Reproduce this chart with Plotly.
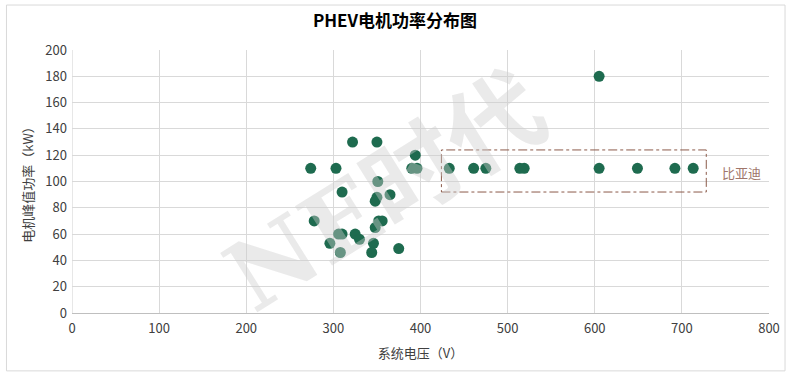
import plotly.graph_objects as go

# Data (system voltage V, peak motor power kW)
voltage = [605, 322, 350, 394, 274, 303, 390, 396, 351, 310, 365, 350, 348, 278,
           352, 356, 348, 306, 310, 325, 330, 296, 346, 308, 344, 375,
           433, 461, 475, 514, 519, 605, 649, 692, 713]
power = [180, 130, 130, 120, 110, 110, 110, 110, 100, 92, 90, 88, 85, 70,
         70, 70, 65, 60, 60, 60, 56, 53, 53, 46, 46, 49,
         110, 110, 110, 110, 110, 110, 110, 110, 110]

byd_box_x = [424, 728]
byd_box_y = [92, 124]
byd_label = "比亚迪"

title = "PHEV电机功率分布图"
x_title = "系统电压（V）"
y_title = "电机峰值功率（kW）"
watermark = "NE时代"

FONT = "Noto Sans CJK SC, Noto Sans, sans-serif"

fig = go.Figure()
fig.add_trace(go.Scatter(
    x=voltage, y=power, mode="markers",
    marker=dict(color="#1E6B4F", size=11, line=dict(width=0)),
    showlegend=False, hoverinfo="x+y"))

fig.add_shape(type="rect", xref="x", yref="y",
              x0=byd_box_x[0], x1=byd_box_x[1], y0=byd_box_y[0], y1=byd_box_y[1],
              line=dict(color="#8B5A4A", width=1, dash="dashdot"))
fig.add_annotation(x=byd_box_x[1], y=(byd_box_y[0] + byd_box_y[1]) / 2 - 1,
                   xref="x", yref="y", text=byd_label, showarrow=False,
                   xanchor="left", xshift=14,
                   font=dict(family=FONT, size=13, color="#A0766A"))

# outer chart border
fig.add_shape(type="rect", xref="paper", yref="paper",
              x0=-0.094, x1=1.023, y0=-0.22, y1=1.171,
              line=dict(color="#D9D9D9", width=1))

# left vertical axis line at x=0
fig.add_shape(type="line", xref="x", yref="paper", x0=0, x1=0, y0=0, y1=1,
              line=dict(color="#D0D0D0", width=1), layer="below")

# watermark (drawn over the points, semi-transparent)
fig.add_annotation(x=360, y=92, xref="x", yref="y", text="<b>" + watermark + "</b>",
                   showarrow=False, textangle=-32,
                   font=dict(family="DejaVu Serif, Noto Sans CJK SC, serif", size=96,
                             color="rgba(205,205,205,0.42)"))

fig.update_layout(
    width=790, height=376,
    margin=dict(l=72, r=21, t=50, b=63),
    paper_bgcolor="white", plot_bgcolor="white",
    title=dict(text="<b>" + title + "</b>", x=0.5, xanchor="center",
               y=0.945, yanchor="middle",
               font=dict(family=FONT, size=17, color="#000000")),
    font=dict(family=FONT, size=13, color="#404040"),
    xaxis=dict(range=[0, 800], dtick=100, showgrid=True, gridcolor="#D9D9D9",
               zeroline=False, showline=True, linecolor="#BFBFBF",
               ticks="", automargin=False, ticklabelstandoff=3,
               title=dict(text=x_title, standoff=13,
                          font=dict(family=FONT, size=13, color="#404040")),
               tickfont=dict(family=FONT, size=13, color="#404040")),
    yaxis=dict(range=[0, 200], dtick=20, showgrid=True, gridcolor="#D9D9D9",
               zeroline=False, showline=False, ticks="", automargin=False,
               ticklabelstandoff=4,
               title=dict(text=y_title, standoff=8,
                          font=dict(family=FONT, size=13, color="#404040")),
               tickfont=dict(family=FONT, size=13, color="#404040")),
)

fig.write_html("out.html", config={"displayModeBar": False},
               post_script="document.body.style.margin='0';document.body.style.overflow='hidden';")
